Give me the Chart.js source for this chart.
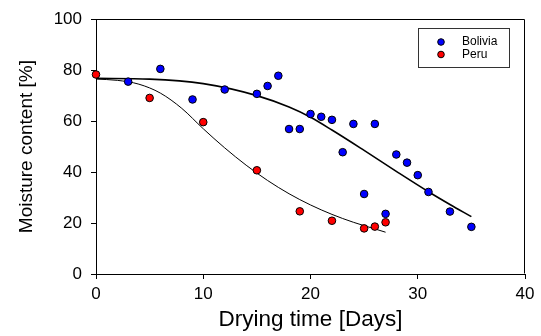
<!DOCTYPE html>
<html>
<head>
<meta charset="utf-8">
<script src="https://cdn.jsdelivr.net/npm/chart.js@4/dist/chart.umd.min.js"></script>
<style>
    body { margin: 0; background: #fff; }
    canvas { display: block; }
</style>
</head>
<body>
<canvas id="dryingChart" width="541" height="336"></canvas>
<script>
// measured samples (days, moisture %)
const boliviaDays = [3, 6, 9, 12, 15, 16, 17, 18, 19, 20, 21, 22, 23, 24, 25, 26, 27, 28, 29, 30, 31, 33, 35];
const boliviaMoisture = [75.5, 80.5, 68.5, 72.4, 70.7, 73.8, 77.8, 56.9, 56.9, 62.8, 61.7, 60.5, 47.8, 58.9, 31.4, 58.9, 23.6, 46.9, 43.7, 38.8, 32.2, 24.5, 18.5];

const peruDays = [0, 5, 10, 15, 19, 22, 25, 26, 27];
const peruMoisture = [78.3, 69.1, 59.6, 40.7, 24.6, 20.9, 17.9, 18.6, 20.3];

// fitted curves
const boliviaFitDays = [0, 5, 10, 15, 18, 20, 22, 25, 28, 31, 33, 35];
const boliviaFit = [76.8, 76.5, 74.7, 70, 65.5, 61.5, 56.5, 48.5, 40.3, 32.3, 27.3, 22.5];

const peruFitDays = [0, 2, 4, 6, 8, 10, 12, 14, 16, 18, 20, 22, 24, 26, 27];
const peruFit = [76.5, 76, 74.5, 71, 65, 57, 49.5, 42.7, 36.7, 31.5, 27.1, 23.4, 20.3, 17.7, 16.4];

const xTicks = [0, 10, 20, 30, 40];
const yTicks = [0, 20, 40, 60, 80, 100];
const legendOrder = ['Bolivia', 'Peru'];

function toPoints(xs, ys) {
    return xs.map((x, i) => ({ x: x, y: ys[i] }));
}

const FONT = "'Liberation Sans', Arial, sans-serif";

// black box round the plot area
const framePlugin = {
    id: 'frame',
    beforeDatasetsDraw(chart) {
        const { ctx, chartArea: a } = chart;
        const l = Math.round(a.left) + 0.5, r = Math.round(a.right) - 0.5;
        const t = Math.round(a.top) + 0.5, b = Math.round(a.bottom) - 0.5;
        ctx.save();
        ctx.strokeStyle = '#000';
        ctx.lineWidth = 1;
        ctx.beginPath();
        ctx.moveTo(l, t);
        ctx.lineTo(r, t);
        ctx.lineTo(r, b);
        ctx.stroke();
        ctx.restore();
    }
};

// boxed legend inside the top right corner
const boxLegendPlugin = {
    id: 'boxLegend',
    afterDraw(chart) {
        const { ctx } = chart;
        const items = legendOrder.map(name => chart.data.datasets.find(d => d.label === name));
        const x0 = 418.5, y0 = 28.5, w = 91, h = 39;
        ctx.save();
        ctx.strokeStyle = '#333';
        ctx.lineWidth = 1;
        ctx.strokeRect(x0, y0, w, h);
        ctx.font = '12px ' + FONT;
        ctx.textBaseline = 'middle';
        items.forEach((d, i) => {
            const cy = 42 + i * 12.5;
            ctx.beginPath();
            ctx.arc(441, cy, 3.3, 0, Math.PI * 2);
            ctx.fillStyle = d.backgroundColor;
            ctx.fill();
            ctx.strokeStyle = '#000';
            ctx.stroke();
            ctx.fillStyle = '#000';
            ctx.fillText(d.label, 462, cy);
        });
        ctx.restore();
    }
};

const ctx = document.getElementById('dryingChart').getContext('2d');

new Chart(ctx, {
    type: 'scatter',
    data: {
        datasets: [
            {
                label: 'Peru',
                data: toPoints(peruDays, peruMoisture),
                backgroundColor: '#ff0000',
                borderColor: '#000',
                borderWidth: 1,
                pointRadius: 3.8,
                order: 0
            },
            {
                label: 'Bolivia',
                data: toPoints(boliviaDays, boliviaMoisture),
                backgroundColor: '#0000ff',
                borderColor: '#000',
                borderWidth: 1,
                pointRadius: 3.8,
                order: 1
            },
            {
                type: 'line',
                label: 'Bolivia fit',
                data: toPoints(boliviaFitDays, boliviaFit),
                borderColor: '#000',
                borderWidth: 1.6,
                pointRadius: 0,
                fill: false,
                cubicInterpolationMode: 'monotone',
                order: 2
            },
            {
                type: 'line',
                label: 'Peru fit',
                data: toPoints(peruFitDays, peruFit),
                borderColor: '#000',
                borderWidth: 1,
                pointRadius: 0,
                fill: false,
                cubicInterpolationMode: 'monotone',
                order: 2
            }
        ]
    },
    options: {
        responsive: false,
        animation: false,
        clip: false,
        layout: {
            padding: { top: 16, right: 16, left: 0, bottom: 0 }
        },
        scales: {
            x: {
                type: 'linear',
                min: 0,
                max: 40,
                afterBuildTicks: scale => { scale.ticks = xTicks.map(v => ({ value: v })); },
                afterFit: scale => { scale.height = 62; },
                ticks: {
                    color: '#000',
                    padding: 5,
                    font: { size: 17, family: FONT }
                },
                grid: {
                    drawOnChartArea: false,
                    tickLength: 5,
                    tickColor: '#000'
                },
                border: { color: '#000', width: 1 },
                title: {
                    display: true,
                    text: 'Drying time [Days]',
                    color: '#000',
                    font: { size: 22.5, family: FONT },
                    padding: { top: 0, bottom: 3 }
                }
            },
            y: {
                type: 'linear',
                min: 0,
                max: 100,
                afterBuildTicks: scale => { scale.ticks = yTicks.map(v => ({ value: v })); },
                afterFit: scale => { scale.width = 96; },
                ticks: {
                    color: '#000',
                    padding: 9,
                    font: { size: 17, family: FONT }
                },
                grid: {
                    drawOnChartArea: false,
                    tickLength: 5,
                    tickColor: '#000'
                },
                border: { color: '#000', width: 1 },
                title: {
                    display: true,
                    text: 'Moisture content [%]',
                    color: '#000',
                    font: { size: 19, family: FONT },
                    padding: { top: 15, bottom: 0 }
                }
            }
        },
        plugins: {
            legend: { display: false },
            tooltip: { enabled: false }
        }
    },
    plugins: [framePlugin, boxLegendPlugin]
});
</script>
</body>
</html>
